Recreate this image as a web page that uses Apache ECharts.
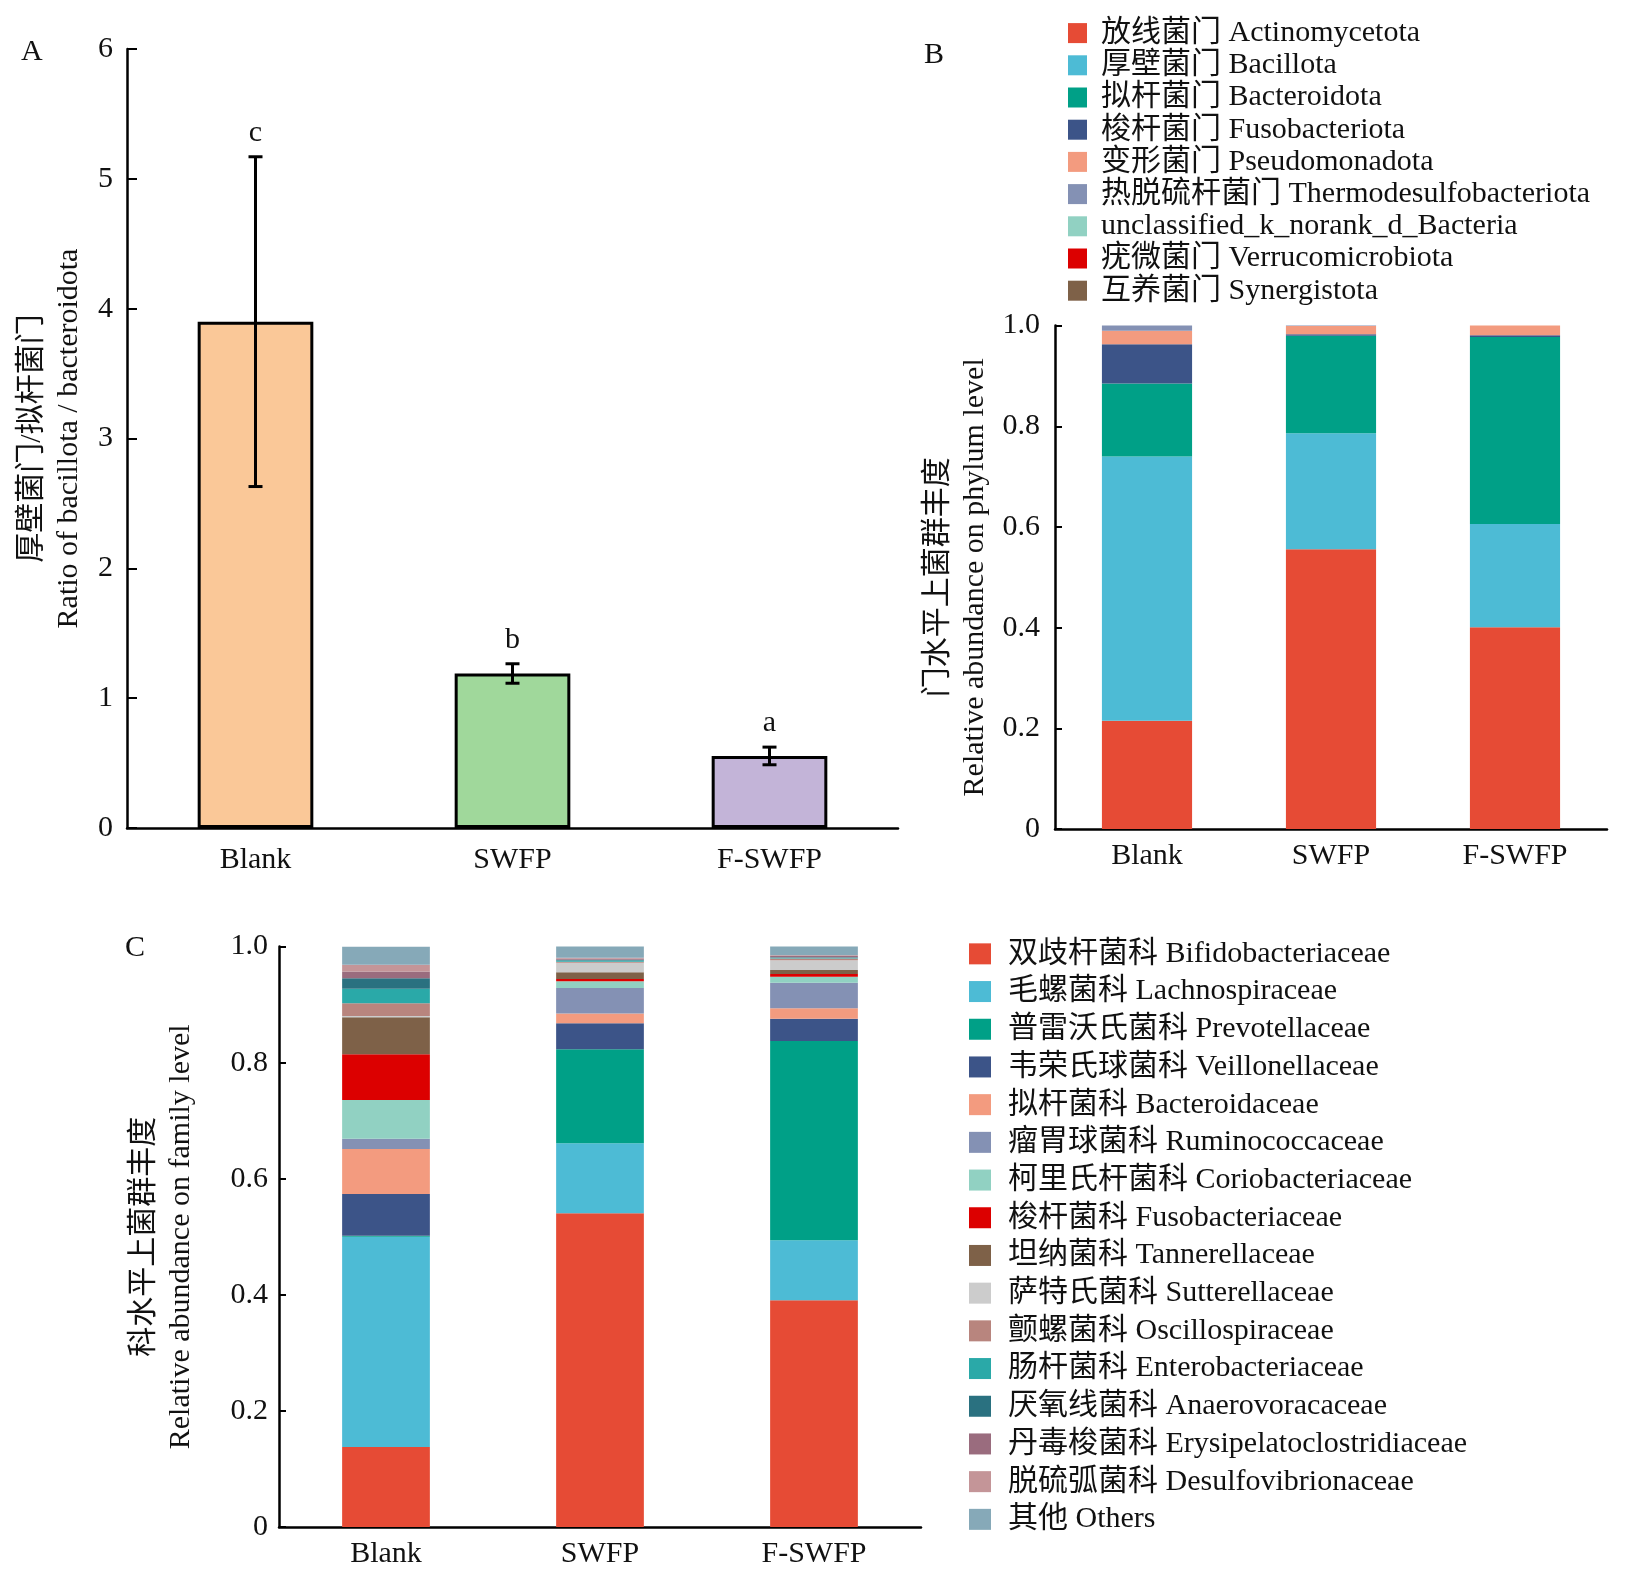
<!DOCTYPE html>
<html>
<head>
<meta charset="utf-8">
<script src="https://cdn.jsdelivr.net/npm/echarts@6/dist/echarts.min.js"></script>
<style>
  html, body { margin: 0; padding: 0; background: #fff; }
  #chart { width: 1631px; height: 1588px; }
</style>
</head>
<body>
<div id="chart"></div>
<script>
// ---------- DATA ----------
const categories = ['Blank', 'SWFP', 'F-SWFP'];

// Panel A: Bacillota / Bacteroidota ratio
const ratioMean = [3.9, 1.19, 0.555];
const ratioErr = [1.27, 0.075, 0.068];
const ratioLetters = ['c', 'b', 'a'];
const ratioColors = ['#FAC898', '#A0D89B', '#C3B4D8'];
const ticksA = [0, 1, 2, 3, 4, 5, 6];

// Panel B: phylum level (bottom to top)
const phylumNames = [
  '放线菌门 Actinomycetota',
  '厚壁菌门 Bacillota',
  '拟杆菌门 Bacteroidota',
  '梭杆菌门 Fusobacteriota',
  '变形菌门 Pseudomonadota',
  '热脱硫杆菌门 Thermodesulfobacteriota',
  'unclassified_k_norank_d_Bacteria',
  '疣微菌门 Verrucomicrobiota',
  '互养菌门 Synergistota'
];
const phylumColors = ['#E64B35', '#4DBBD5', '#00A087', '#3C5488', '#F39B7F', '#8491B4', '#91D1C2', '#DC0000', '#7E6148'];
const actinomycetota = [0.215, 0.556, 0.401];
const bacillota = [0.525, 0.230, 0.205];
const bacteroidota = [0.145, 0.194, 0.3715];
const fusobacteriota = [0.078, 0.003, 0.0035];
const pseudomonadota = [0.027, 0.016, 0.019];
const thermodesulfobacteriota = [0.010, 0.001, 0.0005];
const unclassifiedBacteria = [0, 0, 0];
const verrucomicrobiota = [0, 0, 0];
const synergistota = [0, 0, 0];
const phylumValues = [actinomycetota, bacillota, bacteroidota, fusobacteriota, pseudomonadota,
  thermodesulfobacteriota, unclassifiedBacteria, verrucomicrobiota, synergistota];

// Panel C: family level (bottom to top)
const familyNames = [
  '双歧杆菌科 Bifidobacteriaceae',
  '毛螺菌科 Lachnospiraceae',
  '普雷沃氏菌科 Prevotellaceae',
  '韦荣氏球菌科 Veillonellaceae',
  '拟杆菌科 Bacteroidaceae',
  '瘤胃球菌科 Ruminococcaceae',
  '柯里氏杆菌科 Coriobacteriaceae',
  '梭杆菌科 Fusobacteriaceae',
  '坦纳菌科 Tannerellaceae',
  '萨特氏菌科 Sutterellaceae',
  '颤螺菌科 Oscillospiraceae',
  '肠杆菌科 Enterobacteriaceae',
  '厌氧线菌科 Anaerovoracaceae',
  '丹毒梭菌科 Erysipelatoclostridiaceae',
  '脱硫弧菌科 Desulfovibrionaceae',
  '其他 Others'
];
const familyColors = ['#E64B35', '#4DBBD5', '#00A087', '#3C5488', '#F39B7F', '#8491B4', '#91D1C2', '#DC0000',
  '#7E6148', '#CCCCCC', '#B8857E', '#2AA9A8', '#2A7180', '#9A6C7E', '#C49598', '#86A9B8'];
const bifidobacteriaceae = [0.138, 0.5405, 0.3906];
const lachnospiraceae = [0.362, 0.1206, 0.1034];
const prevotellaceae = [0.002, 0.162, 0.3434];
const veillonellaceae = [0.0718, 0.0448, 0.0385];
const bacteroidaceae = [0.0775, 0.017, 0.0178];
const ruminococcaceae = [0.0178, 0.0436, 0.044];
const coriobacteriaceae = [0.0667, 0.012, 0.0103];
const fusobacteriaceae = [0.0786, 0.0035, 0.0046];
const tannerellaceae = [0.064, 0.012, 0.007];
const sutterellaceae = [0.002, 0.016, 0.017];
const oscillospiraceae = [0.022, 0.002, 0.003];
const enterobacteriaceae = [0.025, 0.002, 0.001];
const anaerovoracaceae = [0.018, 0.0015, 0.001];
const erysipelatoclostridiaceae = [0.0115, 0.002, 0.002];
const desulfovibrionaceae = [0.012, 0.0015, 0.0016];
const others = [0.031, 0.019, 0.015];
const familyValues = [bifidobacteriaceae, lachnospiraceae, prevotellaceae, veillonellaceae, bacteroidaceae,
  ruminococcaceae, coriobacteriaceae, fusobacteriaceae, tannerellaceae, sutterellaceae, oscillospiraceae,
  enterobacteriaceae, anaerovoracaceae, erysipelatoclostridiaceae, desulfovibrionaceae, others];

const ticksAbundance = ['0', '0.2', '0.4', '0.6', '0.8', '1.0'];

// ---------- STYLE ----------
const FONT = "'Liberation Serif', 'Times New Roman', 'Noto Sans CJK SC', serif";
const TXT = '#111';
const FS = 30;

const chart = echarts.init(document.getElementById('chart'), null, { renderer: 'canvas' });

function yAxisBase(gridIndex, max, interval, name, nameGap, tickLen, labelMargin, fmt) {
  return {
    type: 'value', gridIndex, min: 0, max, interval,
    name, nameLocation: 'middle', nameRotate: 90, nameGap,
    nameTextStyle: { fontFamily: FONT, fontSize: FS, color: TXT, lineHeight: 37 },
    axisLine: { show: true, lineStyle: { color: '#000', width: 2.5 } },
    axisTick: { show: true, inside: true, length: tickLen, lineStyle: { color: '#000', width: 2 } },
    axisLabel: { fontFamily: FONT, fontSize: FS, color: TXT, margin: labelMargin, formatter: fmt },
    splitLine: { show: false }
  };
}
function xAxisBase(gridIndex, margin) {
  return {
    type: 'category', gridIndex, data: categories,
    axisLine: { show: true, lineStyle: { color: '#000', width: 2.5 } },
    axisTick: { show: false },
    axisLabel: { fontFamily: FONT, fontSize: FS, color: TXT, margin }
  };
}

const series = [];

// Panel A bars
series.push({
  type: 'bar', xAxisIndex: 0, yAxisIndex: 0, barWidth: '45%',
  data: ratioMean.map((v, i) => ({ value: v, itemStyle: { color: ratioColors[i] } })),
  itemStyle: { borderColor: '#000', borderWidth: 3 },
  silent: true, z: 2
});
// Panel A error bars + significance letters
series.push({
  type: 'custom', xAxisIndex: 0, yAxisIndex: 0, z: 5, silent: true,
  data: ratioMean.map((m, i) => [i, m - ratioErr[i], m + ratioErr[i], ratioLetters[i]]),
  renderItem: function (params, api) {
    const lo = api.coord([api.value(0), api.value(1)]);
    const hi = api.coord([api.value(0), api.value(2)]);
    const cap = 7;
    const st = { stroke: '#000', lineWidth: 3 };
    return {
      type: 'group',
      children: [
        { type: 'line', shape: { x1: lo[0], y1: lo[1], x2: hi[0], y2: hi[1] }, style: st },
        { type: 'line', shape: { x1: lo[0] - cap, y1: lo[1], x2: lo[0] + cap, y2: lo[1] }, style: st },
        { type: 'line', shape: { x1: hi[0] - cap, y1: hi[1], x2: hi[0] + cap, y2: hi[1] }, style: st },
        { type: 'text', x: hi[0], y: hi[1] - 9,
          style: { text: ratioLetters[params.dataIndex], fontFamily: FONT, fontSize: FS, fill: TXT,
                   align: 'center', verticalAlign: 'bottom' } }
      ]
    };
  }
});

// Panel B stacked bars
phylumNames.forEach((n, k) => {
  series.push({
    type: 'bar', name: n, stack: 'phylum', xAxisIndex: 1, yAxisIndex: 1, barWidth: '49%',
    data: phylumValues[k], itemStyle: { color: phylumColors[k] }, silent: true
  });
});
// Panel C stacked bars
familyNames.forEach((n, k) => {
  series.push({
    type: 'bar', name: n, stack: 'family', xAxisIndex: 2, yAxisIndex: 2, barWidth: '41%',
    data: familyValues[k], itemStyle: { color: familyColors[k] }, silent: true
  });
});

const abFmt = v => ticksAbundance[Math.round(v / 0.2)];

const option = {
  animation: false,
  backgroundColor: '#fff',
  grid: [
    { left: 127, top: 49, width: 771, height: 779, outerBoundsMode: 'none', containLabel: false },
    { left: 1055, top: 325.6, width: 552, height: 503.5, outerBoundsMode: 'none', containLabel: false },
    { left: 279, top: 946.6, width: 642, height: 580.4, outerBoundsMode: 'none', containLabel: false }
  ],
  xAxis: [xAxisBase(0, 17), xAxisBase(1, 12), xAxisBase(2, 12)],
  yAxis: [
    yAxisBase(0, 6, 1, '厚壁菌门/拟杆菌门\nRatio of bacillota / bacteroidota', 39, 10, 14,
      v => String(ticksA[Math.round(v)])),
    yAxisBase(1, 1, 0.2, '门水平上菌群丰度\nRelative abundance on phylum level', 61, 7, 15, abFmt),
    yAxisBase(2, 1, 0.2, '科水平上菌群丰度\nRelative abundance on family level', 79, 7, 11, abFmt)
  ],
  legend: [
    {
      data: phylumNames, orient: 'vertical', left: 1068, top: 17, padding: 0,
      icon: 'rect', itemWidth: 19, itemHeight: 20, itemGap: 0, selectedMode: false,
      textStyle: { fontFamily: FONT, fontSize: FS, color: TXT, lineHeight: 32.2, padding: [0, 0, 0, 9] }
    },
    {
      data: familyNames, orient: 'vertical', left: 969, top: 935, padding: 0,
      icon: 'rect', itemWidth: 22, itemHeight: 21, itemGap: 0, selectedMode: false,
      textStyle: { fontFamily: FONT, fontSize: FS, color: TXT, lineHeight: 37.7, padding: [0, 0, 0, 12] }
    }
  ],
  graphic: [
    { type: 'text', left: 21, top: 37, style: { text: 'A', fontFamily: FONT, fontSize: FS, fill: TXT } },
    { type: 'text', left: 924, top: 40, style: { text: 'B', fontFamily: FONT, fontSize: FS, fill: TXT } },
    { type: 'text', left: 125, top: 933, style: { text: 'C', fontFamily: FONT, fontSize: FS, fill: TXT } }
  ],
  series
};
chart.setOption(option);
</script>
</body>
</html>
